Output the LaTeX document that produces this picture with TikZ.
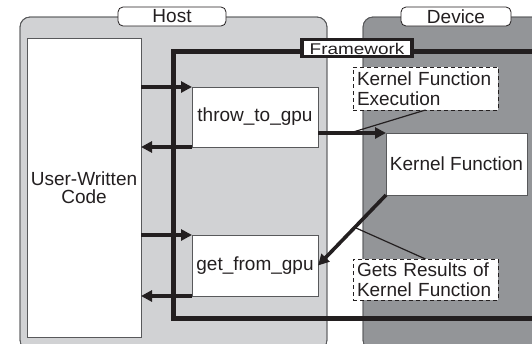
\documentclass[tikz,border=0pt]{standalone}
\usepackage{fontspec}
\setmainfont{Liberation Sans}
\usetikzlibrary{arrows.meta,calc}

\definecolor{hostgray}{HTML}{D1D2D4}
\definecolor{devgray}{HTML}{939598}
\definecolor{ink}{HTML}{231F20}
\definecolor{rimgray}{HTML}{58595B}

\tikzset{
  panel/.style={draw=rimgray, line width=0.8pt, rounded corners=10pt},
  tag/.style={draw=ink, fill=white, line width=0.8pt, rounded corners=5pt,
              inner sep=0pt, outer sep=0pt, anchor=north west},
  block/.style={draw=rimgray, fill=white, line width=0.8pt, inner sep=0pt,
                outer sep=0pt, anchor=north west, align=center},
  note/.style={draw=ink, fill=white, line width=1pt, dash pattern=on 4pt off 3pt,
               inner sep=0pt, outer sep=0pt, anchor=north west},
  flow/.style={draw=ink, line width=3.6pt,
               -{Triangle[length=11pt,width=11pt]}},
  pointer/.style={draw=ink, line width=1.2pt},
  every node/.style={font=\fontsize{19}{19.5}\selectfont, text=ink}
}

\begin{document}
\begin{tikzpicture}[x=1pt,y=-1pt]
\useasboundingbox (0,0) rectangle (532,343);

% host and device panels
\fill[hostgray, panel] (20,17) rectangle (327,350);
\draw[panel] (20,17) rectangle (327,350);
\fill[devgray, panel] (363,17) rectangle (560,350);
\draw[panel] (363,17) rectangle (560,350);

% panel captions
\node[tag, minimum width=108pt, minimum height=19pt] (hosttag) at (118,7) {};
\node at (hosttag.center) {Host};
\node[tag, minimum width=110pt, minimum height=19pt] (devtag) at (401,7) {};
\node at (devtag.center) {Device};

% framework outline
\draw[ink, line width=5pt] (560,51) -- (173,51) -- (173,318) -- (560,318);

% user code
\node[block, minimum width=114pt, minimum height=299pt] (uwc) at (27,38)
  {User-Written\\[-1pt]Code};

% framework entry points
\node[block, minimum width=126pt, minimum height=60pt] (tg) at (192,87) {throw\_to\_gpu};
\node[block, minimum width=126pt, minimum height=61pt] (gf) at (192,235) {get\_from\_gpu};

% kernel on the device
\node[block, minimum width=141pt, minimum height=62pt] (kf) at (386,133) {Kernel Function};

% calls between user code and framework
\draw[flow] (uwc.east |- tg.north west) -- (tg.north west);
\draw[flow] (tg.south west) -- (uwc.east |- tg.south west);
\draw[flow] (uwc.east |- gf.north west) -- (gf.north west);
\draw[flow] (gf.south west) -- (uwc.east |- gf.south west);

% transfers between host and device
\draw[flow] (tg.east |- kf.north west) coordinate (tgout) -- (kf.north west);
\draw[flow] (kf.south west) -- (gf.east);

% framework caption
\node[draw=ink, fill=white, line width=3.5pt, inner sep=0pt, outer sep=0pt,
      minimum width=110pt, minimum height=17pt] (fw) at (357,48) {};
\node[font=\fontsize{15.5}{16}\selectfont] at ([yshift=-1.2pt]fw.center)
  {\scalebox{1.22}[1]{Framework}};

% annotations
\node[note, minimum width=145pt, minimum height=43pt, text width=137pt,
      inner xsep=4pt, align=left] (exec) at (353,67)
  {Kernel Function\\Execution};
\node[note, minimum width=145pt, minimum height=41pt, text width=137pt,
      inner xsep=4pt, align=left] (gets) at (353,259)
  {Gets Results of\\Kernel Function};

\draw[pointer] ($(tgout)!0.47!(kf.north west)$) -- (exec.south);
\draw[pointer] ($(kf.south west)!0.46!(gf.east)$) -- (gets.north);
\end{tikzpicture}
\end{document}
